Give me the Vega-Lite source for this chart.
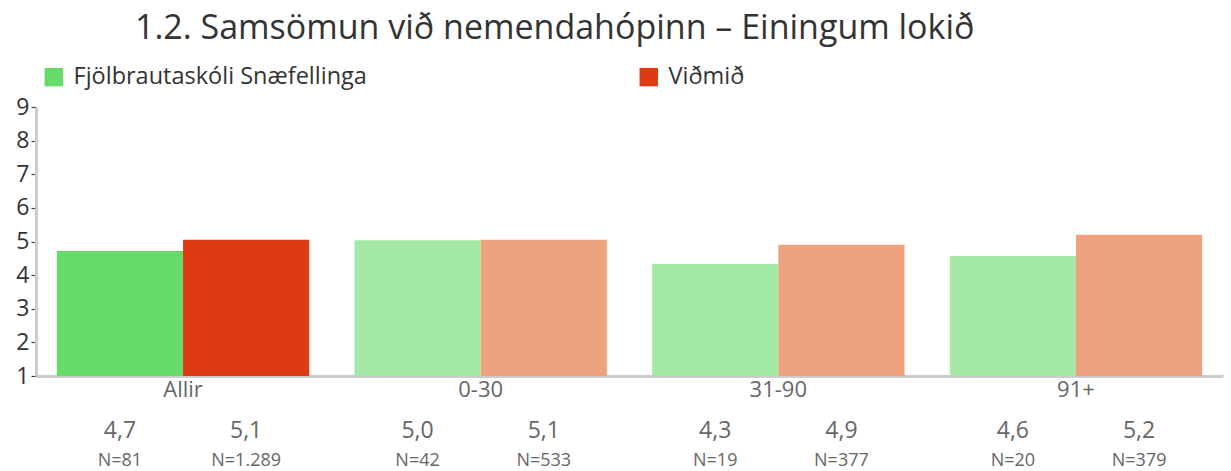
{
  "$schema": "https://vega.github.io/schema/vega-lite/v6.json",
  "width": 1187,
  "height": 269,
  "autosize": {"type": "none"},
  "padding": {"left": 36, "top": 107, "right": 8, "bottom": 95},
  "background": "white",
  "config": {
    "font": "Open Sans",
    "view": {"stroke": null},
    "axisY": {"labelOverlap": false, "tickCount": 12, "format": "d"}
  },
  "title": {
    "text": "1.2. Samsömun við nemendahópinn – Einingum lokið",
    "anchor": "start",
    "frame": "group",
    "dx": 99,
    "fontSize": 34,
    "fontWeight": "normal",
    "color": "#333333",
    "font": "Open Sans",
    "offset": 19
  },
  "data": {
    "values": [
      {"group": "Allir", "series": "A", "key": "Fjölbrautaskóli Snæfellinga", "value": 4.72, "label": "4,7", "n": "N=81"},
      {"group": "Allir", "series": "B", "key": "Viðmið", "value": 5.05, "label": "5,1", "n": "N=1.289"},
      {"group": "0-30", "series": "A", "key": "A_light", "value": 5.04, "label": "5,0", "n": "N=42"},
      {"group": "0-30", "series": "B", "key": "B_light", "value": 5.05, "label": "5,1", "n": "N=533"},
      {"group": "31-90", "series": "A", "key": "A_light", "value": 4.33, "label": "4,3", "n": "N=19"},
      {"group": "31-90", "series": "B", "key": "B_light", "value": 4.9, "label": "4,9", "n": "N=377"},
      {"group": "91+", "series": "A", "key": "A_light", "value": 4.57, "label": "4,6", "n": "N=20"},
      {"group": "91+", "series": "B", "key": "B_light", "value": 5.2, "label": "5,2", "n": "N=379"}
    ]
  },
  "encoding": {
    "x": {
      "field": "group",
      "type": "nominal",
      "sort": ["Allir", "0-30", "31-90", "91+"],
      "scale": {"paddingInner": 0.152, "paddingOuter": 0.07},
      "axis": {
        "title": null,
        "labelAngle": 0,
        "labelFontSize": 22,
        "labelColor": "#666666",
        "labelPadding": 3,
        "ticks": false,
        "domainColor": "#cccccc",
        "domainWidth": 3,
        "labelFont": "Open Sans"
      }
    },
    "xOffset": {"field": "series", "type": "nominal", "scale": {"paddingInner": 0, "paddingOuter": 0}}
  },
  "layer": [
    {
      "mark": {"type": "bar", "clip": false},
      "encoding": {
        "y": {
          "field": "value",
          "type": "quantitative",
          "scale": {"domain": [1, 9], "nice": false, "zero": false},
          "axis": {
            "title": null,
            "values": [1, 2, 3, 4, 5, 6, 7, 8, 9],
            "tickCount": 12,
            "format": "d",
            "labelOverlap": false,
            "grid": false,
            "labelFontSize": 23,
            "labelColor": "#333333",
            "labelPadding": 2,
            "tickColor": "#444444",
            "tickSize": 5,
            "tickWidth": 1.2,
            "domainColor": "#cccccc",
            "domainWidth": 3,
            "labelFont": "Open Sans"
          }
        },
        "y2": {"datum": 1},
        "color": {
          "field": "key",
          "type": "nominal",
          "scale": {
            "domain": ["Fjölbrautaskóli Snæfellinga", "Viðmið", "A_light", "B_light"],
            "range": ["#66DB6A", "#E03A12", "#A4EAA6", "#EFA27E"]
          },
          "legend": {
            "values": ["Fjölbrautaskóli Snæfellinga", "Viðmið"],
            "title": null,
            "orient": "none",
            "legendX": 6,
            "legendY": -42,
            "direction": "horizontal",
            "columns": 2,
            "columnPadding": 270,
            "symbolType": "square",
            "symbolSize": 340,
            "symbolStrokeWidth": 0,
            "labelFontSize": 23.5,
            "labelColor": "#333333",
            "labelFont": "Open Sans",
            "labelLimit": 400,
            "labelOffset": 8
          }
        }
      }
    },
    {
      "mark": {"type": "text", "fontSize": 23, "color": "#666666", "baseline": "middle", "clip": false},
      "encoding": {
        "y": {"datum": -0.64, "axis": {"title": null, "values": [1, 2, 3, 4, 5, 6, 7, 8, 9], "tickCount": 12, "format": "d", "labelOverlap": false}},
        "text": {"field": "label"}
      }
    },
    {
      "mark": {"type": "text", "fontSize": 18, "color": "#666666", "baseline": "middle", "clip": false},
      "encoding": {
        "y": {"datum": -1.53, "axis": {"title": null, "values": [1, 2, 3, 4, 5, 6, 7, 8, 9], "tickCount": 12, "format": "d", "labelOverlap": false}},
        "text": {"field": "n"}
      }
    }
  ]
}
